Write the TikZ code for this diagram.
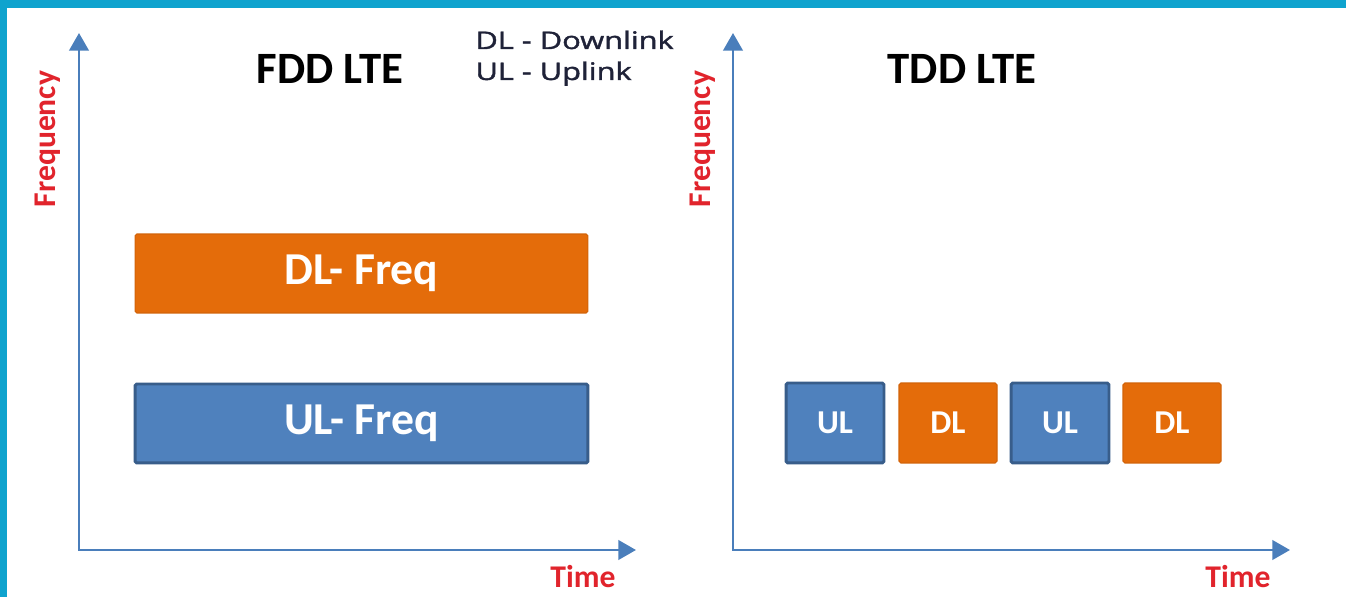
\documentclass[tikz,border=0pt]{standalone}
\usepackage{fontspec}
\setmainfont{Carlito}
\newfontfamily\legendfont[FakeBold=1.4]{Open Sans}
\usetikzlibrary{arrows.meta}

\definecolor{lteorange}{HTML}{E46C0A}
\definecolor{lteblue}{HTML}{4F81BD}
\definecolor{ltebluedark}{HTML}{385D8A}
\definecolor{axisblue}{HTML}{4A7EBB}
\definecolor{labelred}{HTML}{E1242C}
\definecolor{framecyan}{HTML}{0FA3CE}
\definecolor{legendnavy}{HTML}{1F2238}

\tikzset{
  axis/.style={axisblue, line width=1.6pt, {Triangle[length=10pt,width=11pt]}-{Triangle[length=10pt,width=11pt]}},
  axislabel/.style={labelred, font=\bfseries\fontsize{18}{20}\selectfont, inner sep=0pt},
  title/.style={font=\bfseries\fontsize{25.5}{28}\selectfont, inner sep=0pt},
  legend/.style={legendnavy, font=\legendfont\fontsize{13.8}{16}\selectfont, anchor=base west, inner sep=0pt, xscale=1.27, transform shape},
  dlbox/.style={fill=lteorange, draw=lteorange!92!black, line width=0.6pt, rounded corners=1pt, text=white},
  ulbox/.style={fill=lteblue, draw=ltebluedark, line width=1.7pt, rounded corners=1pt, text=white},
  wide/.style={minimum width=9.06cm, minimum height=1.58cm, font=\bfseries\fontsize{26}{30}\selectfont},
  slot/.style={minimum width=1.96cm, minimum height=1.6cm, font=\bfseries\fontsize{19}{22}\selectfont}
}

\begin{document}
\begin{tikzpicture}[x=0.02cm, y=-0.02cm]
  \useasboundingbox (0,0) rectangle (1346,597);
  \fill[white] (0,0) rectangle (1346,597);
  \fill[framecyan] (0,0) rectangle (1346,8);
  \fill[framecyan] (0,0) rectangle (7,597);

  % FDD
  \coordinate (fddO) at (79,550);
  \coordinate (fddF) at (79,33);
  \coordinate (fddT) at (636,550);
  \draw[axis] (fddF) -- (fddO) -- (fddT);
  \node[axislabel, rotate=90] (fddFreq) at (48,139) {Frequency};
  \node[axislabel] (fddTime) at (583,577) {Time};
  \node[title] (fddTitle) at (330,69) {FDD LTE};
  \node[dlbox, wide] (dlFreq) at (361.5,273.5) {DL- Freq};
  \node[ulbox, wide] (ulFreq) at (361.5,423.5) {UL- Freq};

  \node[legend] (legDL) at (475,49) {DL - Downlink};
  \node[legend] (legUL) at (475,80) {UL - Uplink};

  % TDD
  \coordinate (tddO) at (733,550);
  \coordinate (tddF) at (733,33);
  \coordinate (tddT) at (1290,550);
  \draw[axis] (tddF) -- (tddO) -- (tddT);
  \node[axislabel, rotate=90] (tddFreq) at (703,139) {Frequency};
  \node[axislabel] (tddTime) at (1238,577) {Time};
  \node[title] (tddTitle) at (962,69) {TDD LTE};
  \node[ulbox, slot] (ulA) at (835,423) {UL};
  \node[dlbox, slot] (dlA) at (948,423) {DL};
  \node[ulbox, slot] (ulB) at (1060,423) {UL};
  \node[dlbox, slot] (dlB) at (1172,423) {DL};
\end{tikzpicture}
\end{document}
